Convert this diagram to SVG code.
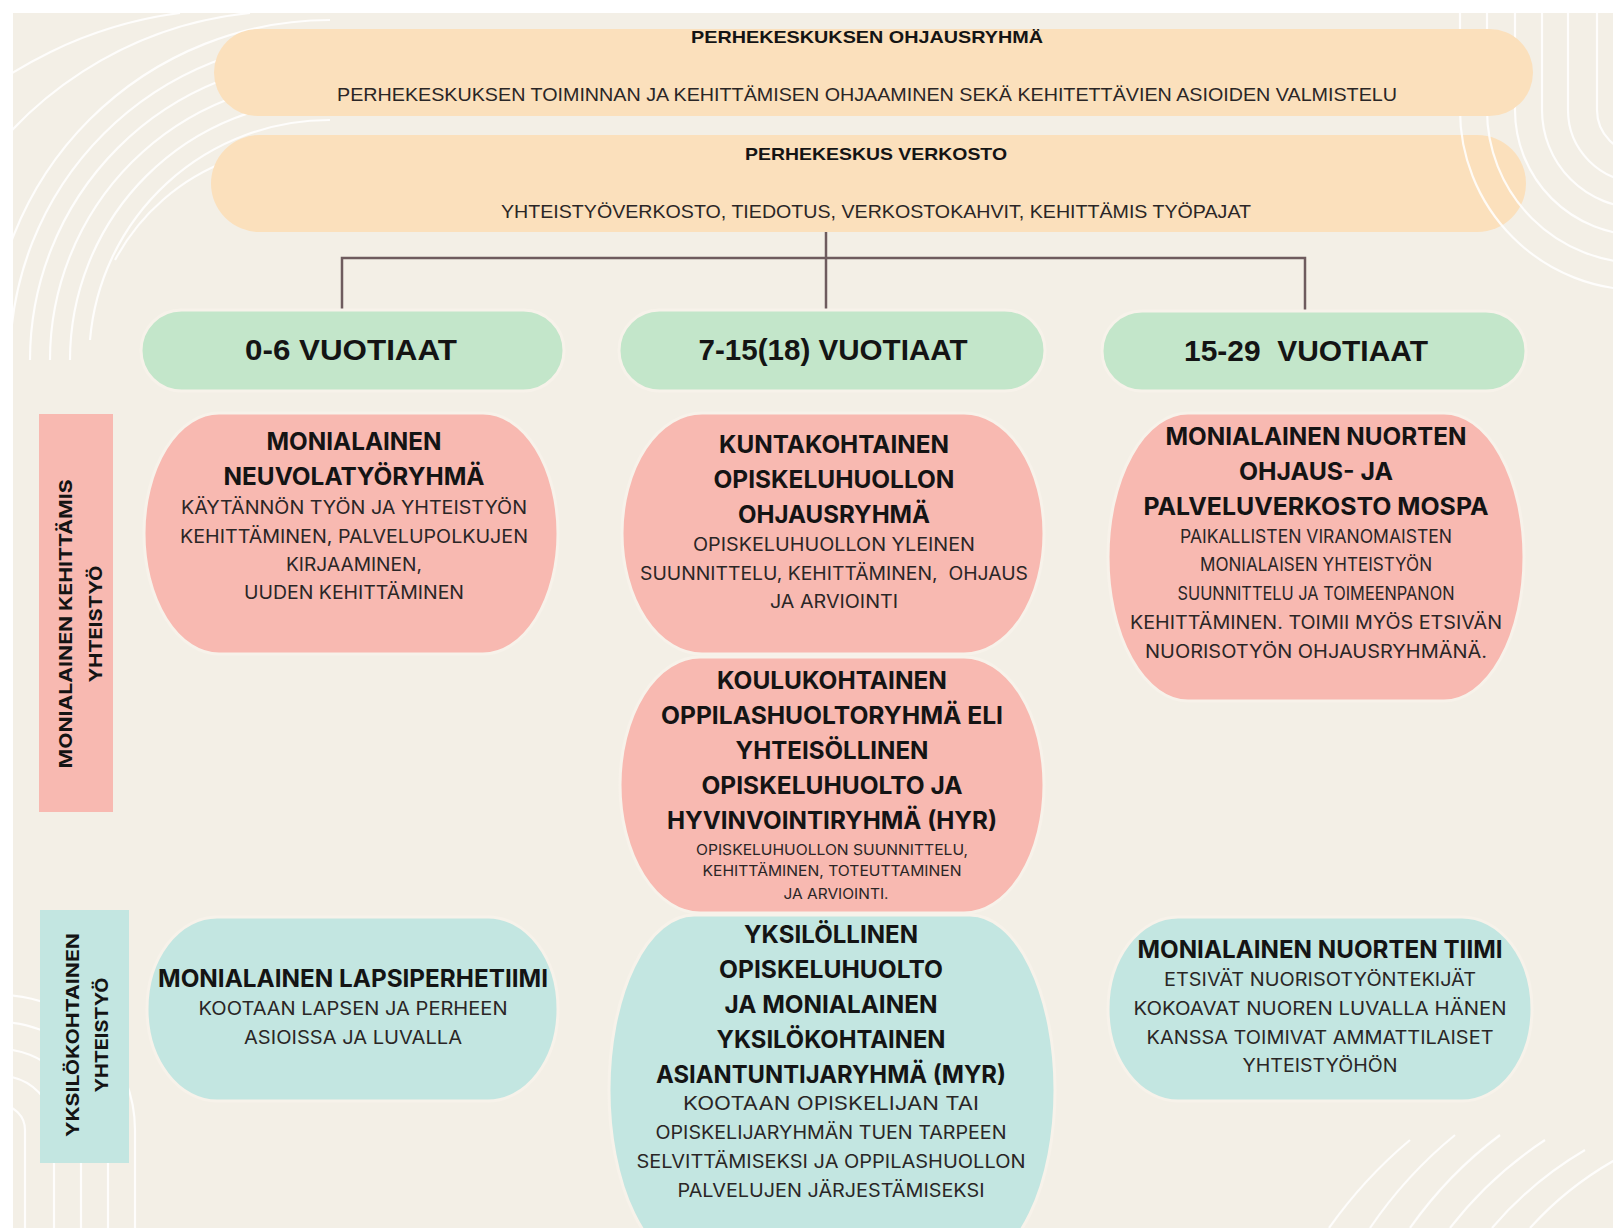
<svg xmlns="http://www.w3.org/2000/svg" width="1613" height="1228" viewBox="0 0 1613 1228">
<defs>
<style>
.bg{fill:#F3EFE6}
.peach{fill:#FBE0BC}
.green{fill:#C3E6CA}
.pink{fill:#F8B9B1}
.teal{fill:#C3E6E1}
.halo{stroke:#F7F2EA;stroke-width:3}
.deco{fill:none;stroke:#FFFFFF;stroke-width:2.2;opacity:.85}
.conn{fill:none;stroke:#6E5B5E;stroke-width:2.5}
.tt{font-family:"Liberation Sans",Arial,sans-serif;font-weight:700;font-size:17px;fill:#141414;text-anchor:middle}
.tb{font-family:"Liberation Sans",Arial,sans-serif;font-weight:400;font-size:18.5px;fill:#2a2626;text-anchor:middle}
.age{font-family:"Liberation Sans",Arial,sans-serif;font-weight:700;font-size:29px;fill:#141414;text-anchor:middle}
.t{font-family:Inter,"Liberation Sans",sans-serif;font-weight:700;font-size:24px;fill:#141414;text-anchor:middle}
.b{font-family:Inter,"Liberation Sans",sans-serif;font-weight:400;font-size:18px;fill:#2a2626;text-anchor:middle}
.s{font-family:Inter,"Liberation Sans",sans-serif;font-weight:400;font-size:14px;fill:#2a2626;text-anchor:middle}
.side{font-family:Inter,"Liberation Sans",sans-serif;font-weight:700;font-size:18px;fill:#141414;text-anchor:middle}
</style>
<clipPath id="bgclip"><rect x="13" y="13" width="1600" height="1215"/></clipPath>
</defs>

<rect x="0" y="0" width="1613" height="1228" fill="#FFFFFF"/>
<rect class="bg" x="13" y="13" width="1600" height="1215"/>

<g id="decoration" clip-path="url(#bgclip)">
  <path class="deco" d="M-10,360 A340,340 0 0 1 330,20"/>
  <path class="deco" d="M10,360 A320,320 0 0 1 330,40"/>
  <path class="deco" d="M30,360 A300,300 0 0 1 330,60"/>
  <path class="deco" d="M50,360 A280,280 0 0 1 330,80"/>
  <path class="deco" d="M70,360 A260,260 0 0 1 330,100"/>
  <path class="deco" d="M90,340 A240,240 0 0 1 330,120"/>
  <path class="deco" d="M115,260 A215,215 0 0 1 230,160"/>
  <path class="deco" d="M-40,200 A380,380 0 0 1 250,13"/>
  <path class="deco" d="M-60,130 A420,420 0 0 1 180,13"/>
  <path class="deco" d="M0,1105 A25,25 0 0 1 25,1130 L25,1240"/>
  <path class="deco" d="M0,1076 A54,54 0 0 1 54,1130 L54,1240"/>
  <path class="deco" d="M0,1049 A81,81 0 0 1 81,1130 L81,1240"/>
  <path class="deco" d="M0,1022 A108,108 0 0 1 108,1130 L108,1240"/>
  <path class="deco" d="M0,995 A135,135 0 0 1 135,1130 L135,1240"/>
  <path class="deco" d="M1329,1228 A465,465 0 0 1 1410,1140"/>
  <path class="deco" d="M1370,1228 A440,440 0 0 1 1455,1135"/>
  <path class="deco" d="M1410,1228 A415,415 0 0 1 1500,1135"/>
  <path class="deco" d="M1450,1228 A390,390 0 0 1 1545,1140"/>
  <path class="deco" d="M1492,1228 A365,365 0 0 1 1585,1150"/>
  <path class="deco" d="M1530,1228 A340,340 0 0 1 1615,1160"/>
</g>

<g id="n-verkosto">
  <rect class="peach" x="211" y="135" width="1315" height="97" rx="48.5"/>
  <text class="tt" x="876" y="160" textLength="262" lengthAdjust="spacingAndGlyphs">PERHEKESKUS VERKOSTO</text>
  <text class="tb" x="876" y="218" textLength="750" lengthAdjust="spacingAndGlyphs">YHTEISTYÖVERKOSTO, TIEDOTUS, VERKOSTOKAHVIT, KEHITTÄMIS TYÖPAJAT</text>
</g>

<g id="decoration-right" clip-path="url(#bgclip)">
  <path class="deco" d="M1460,0 L1460,110 A180,180 0 0 0 1640,290"/>
  <path class="deco" d="M1487,0 L1487,110 A153,153 0 0 0 1640,263"/>
  <path class="deco" d="M1515,0 L1515,110 A125,125 0 0 0 1640,235"/>
  <path class="deco" d="M1542,0 L1542,110 A98,98 0 0 0 1640,208"/>
  <path class="deco" d="M1568,0 L1568,110 A72,72 0 0 0 1640,182"/>
  <path class="deco" d="M1597,0 L1597,110 A43,43 0 0 0 1640,153"/>
</g>

<g id="n-ohjausryhma">
  <rect class="peach" x="214" y="29" width="1319" height="87" rx="43.5"/>
  <text class="tt" x="867" y="43" textLength="352" lengthAdjust="spacingAndGlyphs">PERHEKESKUKSEN OHJAUSRYHMÄ</text>
  <text class="tb" x="867" y="101" textLength="1060" lengthAdjust="spacingAndGlyphs">PERHEKESKUKSEN TOIMINNAN JA KEHITTÄMISEN OHJAAMINEN SEKÄ KEHITETTÄVIEN ASIOIDEN VALMISTELU</text>
</g>

<g id="connectors">
  <path class="conn" d="M826,232 L826,310"/>
  <path class="conn" d="M342,310 L342,258 L1305,258 L1305,311"/>
</g>

<g id="n-age-0-6">
  <rect class="green halo" x="141" y="310" width="423" height="81" rx="40.5"/>
  <text class="age" x="351" y="360" textLength="212" lengthAdjust="spacingAndGlyphs">0-6 VUOTIAAT</text>
</g>
<g id="n-age-7-15">
  <rect class="green halo" x="619" y="310" width="426" height="81" rx="40.5"/>
  <text class="age" x="833" y="360" textLength="269" lengthAdjust="spacingAndGlyphs">7-15(18) VUOTIAAT</text>
</g>
<g id="n-age-15-29">
  <rect class="green halo" x="1102" y="311" width="424" height="80" rx="40"/>
  <text class="age" x="1306" y="361" textLength="244" lengthAdjust="spacingAndGlyphs" xml:space="preserve">15-29  VUOTIAAT</text>
</g>

<g id="n-side-monialainen">
  <rect class="pink" x="39" y="414" width="74" height="398"/>
  <text class="side" transform="translate(72,624) rotate(-90)" textLength="289" lengthAdjust="spacingAndGlyphs">MONIALAINEN KEHITTÄMIS</text>
  <text class="side" transform="translate(102,624) rotate(-90)" textLength="117" lengthAdjust="spacingAndGlyphs">YHTEISTYÖ</text>
</g>
<g id="n-side-yksilo">
  <rect class="teal" x="40" y="910" width="89" height="253"/>
  <text class="side" transform="translate(79,1035) rotate(-90)" textLength="204" lengthAdjust="spacingAndGlyphs">YKSILÖKOHTAINEN</text>
  <text class="side" transform="translate(108,1035) rotate(-90)" textLength="115" lengthAdjust="spacingAndGlyphs">YHTEISTYÖ</text>
</g>

<g id="n-neuvola">
  <rect class="pink halo" x="144" y="413" width="414" height="241" rx="75" ry="120.5"/>
  <text class="t" x="354" y="450" textLength="175" lengthAdjust="spacingAndGlyphs">MONIALAINEN</text>
  <text class="t" x="354" y="485" textLength="261" lengthAdjust="spacingAndGlyphs">NEUVOLATYÖRYHMÄ</text>
  <text class="b" x="354" y="514" textLength="346" lengthAdjust="spacingAndGlyphs">KÄYTÄNNÖN TYÖN JA YHTEISTYÖN</text>
  <text class="b" x="354" y="543" textLength="348" lengthAdjust="spacingAndGlyphs">KEHITTÄMINEN, PALVELUPOLKUJEN</text>
  <text class="b" x="354" y="571" textLength="136" lengthAdjust="spacingAndGlyphs">KIRJAAMINEN,</text>
  <text class="b" x="354" y="599" textLength="220" lengthAdjust="spacingAndGlyphs">UUDEN KEHITTÄMINEN</text>
</g>

<g id="n-kunta">
  <rect class="pink halo" x="622" y="413" width="422" height="241" rx="80" ry="120.5"/>
  <text class="t" x="834" y="453" textLength="230" lengthAdjust="spacingAndGlyphs">KUNTAKOHTAINEN</text>
  <text class="t" x="834" y="488" textLength="241" lengthAdjust="spacingAndGlyphs">OPISKELUHUOLLON</text>
  <text class="t" x="834" y="523" textLength="192" lengthAdjust="spacingAndGlyphs">OHJAUSRYHMÄ</text>
  <text class="b" x="834" y="551" textLength="282" lengthAdjust="spacingAndGlyphs">OPISKELUHUOLLON YLEINEN</text>
  <text class="b" x="834" y="580" textLength="388" lengthAdjust="spacingAndGlyphs" xml:space="preserve">SUUNNITTELU, KEHITTÄMINEN,  OHJAUS</text>
  <text class="b" x="834" y="608" textLength="128" lengthAdjust="spacingAndGlyphs">JA ARVIOINTI</text>
</g>

<g id="n-koulu">
  <rect class="pink halo" x="620" y="657" width="424" height="256" rx="80" ry="128"/>
  <text class="t" x="832" y="689" textLength="230" lengthAdjust="spacingAndGlyphs">KOULUKOHTAINEN</text>
  <text class="t" x="832" y="724" textLength="342" lengthAdjust="spacingAndGlyphs">OPPILASHUOLTORYHMÄ ELI</text>
  <text class="t" x="832" y="759" textLength="193" lengthAdjust="spacingAndGlyphs">YHTEISÖLLINEN</text>
  <text class="t" x="832" y="794" textLength="261" lengthAdjust="spacingAndGlyphs">OPISKELUHUOLTO JA</text>
  <text class="t" x="832" y="829" textLength="330" lengthAdjust="spacingAndGlyphs">HYVINVOINTIRYHMÄ (HYR)</text>
  <text class="s" x="832" y="855" textLength="272" lengthAdjust="spacingAndGlyphs">OPISKELUHUOLLON SUUNNITTELU,</text>
  <text class="s" x="832" y="876" textLength="259" lengthAdjust="spacingAndGlyphs">KEHITTÄMINEN, TOTEUTTAMINEN</text>
  <text class="s" x="836" y="899" textLength="105" lengthAdjust="spacingAndGlyphs">JA ARVIOINTI.</text>
</g>

<g id="n-mospa">
  <rect class="pink halo" x="1108" y="413" width="416" height="288" rx="80" ry="144"/>
  <text class="t" x="1316" y="445" textLength="301" lengthAdjust="spacingAndGlyphs">MONIALAINEN NUORTEN</text>
  <text class="t" x="1316" y="480" textLength="154" lengthAdjust="spacingAndGlyphs">OHJAUS- JA</text>
  <text class="t" x="1316" y="515" textLength="345" lengthAdjust="spacingAndGlyphs">PALVELUVERKOSTO MOSPA</text>
  <text class="b" x="1316" y="543" textLength="272" lengthAdjust="spacingAndGlyphs">PAIKALLISTEN VIRANOMAISTEN</text>
  <text class="b" x="1316" y="571" textLength="232" lengthAdjust="spacingAndGlyphs">MONIALAISEN YHTEISTYÖN</text>
  <text class="b" x="1316" y="600" textLength="277" lengthAdjust="spacingAndGlyphs">SUUNNITTELU JA TOIMEENPANON</text>
  <text class="b" x="1316" y="629" textLength="372" lengthAdjust="spacingAndGlyphs">KEHITTÄMINEN. TOIMII MYÖS ETSIVÄN</text>
  <text class="b" x="1316" y="658" textLength="342" lengthAdjust="spacingAndGlyphs">NUORISOTYÖN OHJAUSRYHMÄNÄ.</text>
</g>

<g id="n-lapsiperhetiimi">
  <rect class="teal halo" x="147" y="917" width="411" height="184" rx="70" ry="92"/>
  <text class="t" x="353" y="987" textLength="390" lengthAdjust="spacingAndGlyphs">MONIALAINEN LAPSIPERHETIIMI</text>
  <text class="b" x="353" y="1015" textLength="309" lengthAdjust="spacingAndGlyphs">KOOTAAN LAPSEN JA PERHEEN</text>
  <text class="b" x="353" y="1044" textLength="218" lengthAdjust="spacingAndGlyphs">ASIOISSA JA LUVALLA</text>
</g>

<g id="n-myr">
  <rect class="teal halo" x="609" y="915" width="446" height="350" rx="85" ry="175"/>
  <text class="t" x="831" y="943" textLength="174" lengthAdjust="spacingAndGlyphs">YKSILÖLLINEN</text>
  <text class="t" x="831" y="978" textLength="224" lengthAdjust="spacingAndGlyphs">OPISKELUHUOLTO</text>
  <text class="t" x="831" y="1013" textLength="213" lengthAdjust="spacingAndGlyphs">JA MONIALAINEN</text>
  <text class="t" x="831" y="1048" textLength="229" lengthAdjust="spacingAndGlyphs">YKSILÖKOHTAINEN</text>
  <text class="t" x="831" y="1083" textLength="350" lengthAdjust="spacingAndGlyphs">ASIANTUNTIJARYHMÄ (MYR)</text>
  <text class="b" x="831" y="1110" textLength="296" lengthAdjust="spacingAndGlyphs">KOOTAAN OPISKELIJAN TAI</text>
  <text class="b" x="831" y="1139" textLength="351" lengthAdjust="spacingAndGlyphs">OPISKELIJARYHMÄN TUEN TARPEEN</text>
  <text class="b" x="831" y="1168" textLength="389" lengthAdjust="spacingAndGlyphs">SELVITTÄMISEKSI JA OPPILASHUOLLON</text>
  <text class="b" x="831" y="1197" textLength="307" lengthAdjust="spacingAndGlyphs">PALVELUJEN JÄRJESTÄMISEKSI</text>
</g>

<g id="n-nuorten-tiimi">
  <rect class="teal halo" x="1108" y="917" width="424" height="184" rx="70" ry="92"/>
  <text class="t" x="1320" y="958" textLength="365" lengthAdjust="spacingAndGlyphs">MONIALAINEN NUORTEN TIIMI</text>
  <text class="b" x="1320" y="986" textLength="312" lengthAdjust="spacingAndGlyphs">ETSIVÄT NUORISOTYÖNTEKIJÄT</text>
  <text class="b" x="1320" y="1015" textLength="373" lengthAdjust="spacingAndGlyphs">KOKOAVAT NUOREN LUVALLA HÄNEN</text>
  <text class="b" x="1320" y="1044" textLength="347" lengthAdjust="spacingAndGlyphs">KANSSA TOIMIVAT AMMATTILAISET</text>
  <text class="b" x="1320" y="1072" textLength="155" lengthAdjust="spacingAndGlyphs">YHTEISTYÖHÖN</text>
</g>
</svg>
